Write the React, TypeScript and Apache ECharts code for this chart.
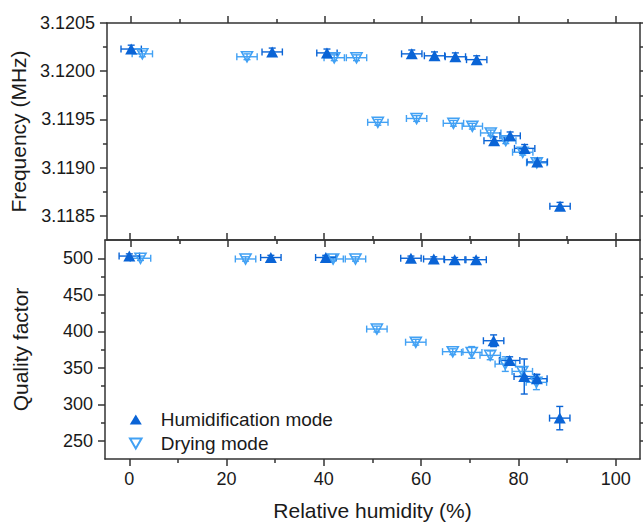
import React, { useEffect, useRef } from "react";
import * as echarts from "echarts";

// ---------- data ----------
const humidRH = [0, 29.1, 40.4, 57.9, 62.6, 66.9, 71.3, 74.9, 78.2, 81.2, 83.8, 88.5];
const humidRHErr = [2.1, 2.1, 2.1, 2.1, 2.1, 2.1, 2.1, 2.1, 2.1, 2.1, 2.1, 2.1];
const humidFreq = [3.12023, 3.1202, 3.12019, 3.12018, 3.12016, 3.12015, 3.12012, 3.11928, 3.11933, 3.1192, 3.11906, 3.1186];
const humidFreqErr = [0.00004, 0.00004, 0.00004, 0.00004, 0.00004, 0.00004, 0.00004, 0.00004, 0.00004, 0.00004, 0.00004, 0.00004];
const humidQ = [503, 501, 501, 500, 499, 498, 498, 387, 360, 338, 335, 281];
const humidQErr = [3, 3, 3, 3, 3, 3, 3, 8, 5, 24, 6, 16];

const dryRH = [2.3, 23.9, 41.9, 46.5, 50.9, 58.9, 66.5, 70.4, 74.2, 77.3, 80.8, 83.7];
const dryRHErr = [2.1, 2.1, 2.1, 2.1, 2.1, 2.1, 2.1, 2.1, 2.1, 2.1, 2.1, 2.1];
const dryFreq = [3.12018, 3.12015, 3.12014, 3.12014, 3.11947, 3.11951, 3.11946, 3.11943, 3.11936, 3.11928, 3.11916, 3.11905];
const dryFreqErr = [0.00003, 0.00003, 0.00003, 0.00003, 0.00003, 0.00003, 0.00003, 0.00003, 0.00003, 0.00003, 0.00003, 0.00003];
const dryQ = [500, 499, 499, 499, 403, 385, 372, 371, 367, 355, 345, 330];
const dryQErr = [3, 3, 3, 3, 4, 4, 4, 8, 6, 10, 6, 10];

// ---------- ticks ----------
const xMajor = [0, 20, 40, 60, 80, 100];
const xMinor = [10, 30, 50, 70, 90];
const freqMajor = [3.1185, 3.119, 3.1195, 3.12, 3.1205];
const freqMinor = [3.11875, 3.11925, 3.11975, 3.12025];
const qMajor = [250, 300, 350, 400, 450, 500];
const qMinor = [275, 325, 375, 425, 475];

const X_MIN = -5, X_MAX = 105;
const F_MIN = 3.11825, F_MAX = 3.1205;
const Q_MIN = 225, Q_MAX = 525;

const HUMID = "#0A64D6";
const DRY = "#42A1F4";
const AXIS = "#333333";
const FONT = 'Arial, "Liberation Sans", sans-serif';

function axisDef(kind: "x" | "y", gridIndex: number, position: string, min: number, max: number,
  ticks: number[], len: number, showLine: boolean, labels?: { fmt: (v: number) => string }, name?: string, nameGap?: number) {
  const a: any = {
    type: "value",
    gridIndex,
    position,
    min,
    max,
    axisLine: { show: showLine, onZero: false, lineStyle: { color: AXIS, width: 1.5 } },
    axisTick: { show: true, inside: false, length: len, customValues: ticks, lineStyle: { color: AXIS, width: 1.5 } },
    axisLabel: labels
      ? { show: true, customValues: ticks, formatter: labels.fmt, color: "#1a1a1a", fontSize: 18, fontFamily: FONT, margin: kind === "x" ? 11 : 12 }
      : { show: false },
    splitLine: { show: false },
    minorTick: { show: false },
  };
  if (name) {
    a.name = name;
    a.nameLocation = "middle";
    a.nameGap = nameGap;
    a.nameTextStyle = { fontSize: 21, fontFamily: FONT, color: "#1a1a1a" };
  }
  return a;
}

function errSeries(xs: number[], ys: number[], xe: number[], ye: number[], color: string, xi: number, yi: number) {
  return {
    type: "custom",
    xAxisIndex: xi,
    yAxisIndex: yi,
    silent: true,
    encode: { x: 0, y: 1 },
    data: xs.map((x, i) => [x, ys[i], xe[i], ye[i]]),
    renderItem: (params: any, api: any) => {
      const x = api.value(0), y = api.value(1), ex = api.value(2), ey = api.value(3);
      const l = api.coord([x - ex, y]);
      const r = api.coord([x + ex, y]);
      const t = api.coord([x, y + ey]);
      const b = api.coord([x, y - ey]);
      const c = 3.5;
      const style = { stroke: color, lineWidth: 1.4, fill: null };
      const ln = (x1: number, y1: number, x2: number, y2: number) => ({ type: "line", shape: { x1, y1, x2, y2 }, style });
      return {
        type: "group",
        children: [
          ln(l[0], l[1], r[0], r[1]),
          ln(l[0], l[1] - c, l[0], l[1] + c),
          ln(r[0], r[1] - c, r[0], r[1] + c),
          ln(t[0], t[1], b[0], b[1]),
          ln(t[0] - c, t[1], t[0] + c, t[1]),
          ln(b[0] - c, b[1], b[0] + c, b[1]),
        ],
      };
    },
    z: 2,
  };
}

const DOWN_TRI = "path://M0,0L10,0L5,8.66Z";

function humidScatter(xs: number[], ys: number[], xi: number, yi: number) {
  return {
    type: "scatter",
    name: "Humidification mode",
    xAxisIndex: xi,
    yAxisIndex: yi,
    symbol: "triangle",
    symbolSize: [12, 11],
    itemStyle: { color: HUMID, opacity: 1 },
    data: xs.map((x, i) => [x, ys[i]]),
    z: 4,
  };
}

function dryScatter(xs: number[], ys: number[], xi: number, yi: number) {
  return {
    type: "scatter",
    name: "Drying mode",
    xAxisIndex: xi,
    yAxisIndex: yi,
    symbol: DOWN_TRI,
    symbolSize: [11, 10],
    itemStyle: { color: "rgba(255,255,255,0)", borderColor: DRY, borderWidth: 1.6, opacity: 1 },
    data: xs.map((x, i) => [x, ys[i]]),
    z: 3,
  };
}

export default function App() {
  const ref = useRef<HTMLDivElement>(null);
  useEffect(() => {
    if (!ref.current) return;
    const chart = echarts.init(ref.current, null, { renderer: "svg" });
    const fFmt = (v: number) => v.toFixed(4);
    const iFmt = (v: number) => String(Math.round(v));
    const xAxis = [
      axisDef("x", 0, "bottom", X_MIN, X_MAX, xMajor, 7, true),
      axisDef("x", 0, "bottom", X_MIN, X_MAX, xMinor, 4, false),
      axisDef("x", 0, "top", X_MIN, X_MAX, xMajor, 7, true),
      axisDef("x", 0, "top", X_MIN, X_MAX, xMinor, 4, false),
      axisDef("x", 1, "bottom", X_MIN, X_MAX, xMajor, 7, true, { fmt: iFmt }, "Relative humidity (%)", 41),
      axisDef("x", 1, "bottom", X_MIN, X_MAX, xMinor, 4, false),
      axisDef("x", 1, "top", X_MIN, X_MAX, xMajor, 7, true),
      axisDef("x", 1, "top", X_MIN, X_MAX, xMinor, 4, false),
    ];
    const yAxis = [
      axisDef("y", 0, "left", F_MIN, F_MAX, freqMajor, 7, true, { fmt: fFmt }, "Frequency (MHz)", 74),
      axisDef("y", 0, "left", F_MIN, F_MAX, freqMinor, 4, false),
      axisDef("y", 0, "right", F_MIN, F_MAX, freqMajor, 7, true),
      axisDef("y", 0, "right", F_MIN, F_MAX, freqMinor, 4, false),
      axisDef("y", 1, "left", Q_MIN, Q_MAX, qMajor, 7, true, { fmt: iFmt }, "Quality factor", 74),
      axisDef("y", 1, "left", Q_MIN, Q_MAX, qMinor, 4, false),
      axisDef("y", 1, "right", Q_MIN, Q_MAX, qMajor, 7, true),
      axisDef("y", 1, "right", Q_MIN, Q_MAX, qMinor, 4, false),
    ];
    chart.setOption({
      animation: false,
      backgroundColor: "#ffffff",
      grid: [
        { left: 105, right: 3, top: 23, height: 217 },
        { left: 105, right: 3, top: 240, height: 219 },
      ],
      xAxis,
      yAxis,
      legend: {
        orient: "vertical",
        left: 124,
        top: 405,
        itemWidth: 12,
        itemHeight: 10,
        itemGap: 5,
        textStyle: { fontSize: 19, fontFamily: FONT, color: "#1a1a1a", padding: [0, 0, 0, 14] },
        data: [
          { name: "Humidification mode" },
          { name: "Drying mode" },
        ],
        selectedMode: false,
      },
      series: [
        errSeries(dryRH, dryFreq, dryRHErr, dryFreqErr, DRY, 0, 0),
        dryScatter(dryRH, dryFreq, 0, 0),
        errSeries(humidRH, humidFreq, humidRHErr, humidFreqErr, HUMID, 0, 0),
        humidScatter(humidRH, humidFreq, 0, 0),
        errSeries(dryRH, dryQ, dryRHErr, dryQErr, DRY, 4, 4),
        dryScatter(dryRH, dryQ, 4, 4),
        errSeries(humidRH, humidQ, humidRHErr, humidQErr, HUMID, 4, 4),
        humidScatter(humidRH, humidQ, 4, 4),
      ],
    });
    return () => chart.dispose();
  }, []);
  return <div ref={ref} style={{ position: "fixed", left: 0, top: 0, width: 643, height: 523 }} />;
}
